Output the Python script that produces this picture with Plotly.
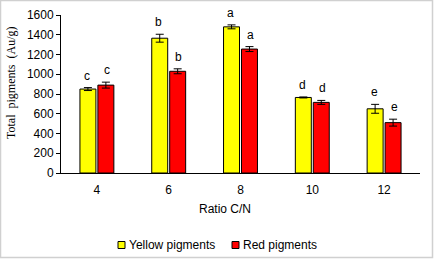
import plotly.graph_objects as go

categories = ["4", "6", "8", "10", "12"]
yellow = [850, 1365, 1480, 765, 650]
yellow_err = [15, 40, 20, 5, 45]
red = [890, 1030, 1255, 715, 510]
red_err = [30, 25, 25, 20, 35]
yellow_letters = ["c", "b", "a", "d", "e"]
red_letters = ["c", "b", "a", "d", "e"]
series_names = ["Yellow pigments", "Red pigments"]
series_colors = ["#FFFF00", "#FF0000"]

W, H = 434, 259
ml, mr, mt, mb = 61, 14, 15, 86
pw, ph = W - ml - mr, H - mt - mb
FONT = "Liberation Sans, Arial"

fig = go.Figure()
for name, color, vals, errs in [(series_names[0], series_colors[0], yellow, yellow_err),
                                (series_names[1], series_colors[1], red, red_err)]:
    fig.add_bar(name=name, x=categories, y=vals,
                marker=dict(color=color, line=dict(color="black", width=1)),
                error_y=dict(type="data", array=errs, color="black", thickness=1, width=4))

ann = []
for i, c in enumerate(categories):
    ann.append(dict(x=i, y=yellow[i] + yellow_err[i], text=yellow_letters[i], xref="x", yref="y",
                    showarrow=False, yanchor="bottom", xshift=-10, yshift=3,
                    font=dict(family=FONT, size=12, color="black")))
    ann.append(dict(x=i, y=red[i] + red_err[i], text=red_letters[i], xref="x", yref="y",
                    showarrow=False, yanchor="bottom", xshift=10, yshift=3,
                    font=dict(family=FONT, size=12, color="black")))

def px_x(v):
    return (v - ml) / pw

def px_y(v):
    return (H - mb - v) / ph

# axis titles
ann.append(dict(x=px_x(225), y=px_y(209), xref="paper", yref="paper", text="Ratio C/N",
                showarrow=False, xanchor="center", yanchor="middle",
                font=dict(family=FONT, size=12, color="black")))
ann.append(dict(x=px_x(11), y=px_y(83), xref="paper", yref="paper",
                text="Total&nbsp;&nbsp;pigments&nbsp;&nbsp;(Au/g)", textangle=-90,
                showarrow=False, xanchor="center", yanchor="middle",
                font=dict(family="Liberation Serif, Times New Roman", size=12, color="black")))

shapes = [dict(type="rect", xref="paper", yref="paper",
               x0=-(ml - 0.5) / pw, x1=1 + (mr - 1.5) / pw,
               y0=-(mb - 1.5) / ph, y1=1 + (mt - 0.5) / ph,
               line=dict(color="#d0d0d0", width=1.5))]

# legend (custom, compact like the original)
leg_x = [118, 232]
leg_y = 245
for k in range(2):
    shapes.append(dict(type="rect", xref="paper", yref="paper",
                       x0=px_x(leg_x[k]), x1=px_x(leg_x[k] + 7),
                       y0=px_y(leg_y + 3.5), y1=px_y(leg_y - 3.5),
                       fillcolor=series_colors[k], line=dict(color="black", width=1)))
    ann.append(dict(x=px_x(leg_x[k] + 9), y=px_y(leg_y), xref="paper", yref="paper",
                    text=series_names[k], showarrow=False, xanchor="left", yanchor="middle",
                    font=dict(family=FONT, size=12, color="black")))

fig.update_layout(
    width=W, height=H,
    margin=dict(l=ml, r=mr, t=mt, b=mb, autoexpand=False),
    paper_bgcolor="white", plot_bgcolor="white",
    barmode="group", bargap=0.5, bargroupgap=0.11,
    font=dict(family=FONT, size=12, color="black"),
    showlegend=False,
    annotations=ann,
    shapes=shapes,
    xaxis=dict(type="category", range=[-0.5, 4.5], showline=True, linecolor="black", linewidth=1,
               ticks="", showgrid=False, tickfont=dict(size=12), ticklabelstandoff=6,
               automargin=False),
    yaxis=dict(range=[0, 1600], dtick=200, showline=True, linecolor="black", linewidth=1,
               ticks="outside", ticklen=4, tickcolor="black", showgrid=False, zeroline=False,
               tickfont=dict(size=12), automargin=False),
)

fig.write_html("out.html", config={"displayModeBar": False},
               post_script="document.body.style.margin='0';")
